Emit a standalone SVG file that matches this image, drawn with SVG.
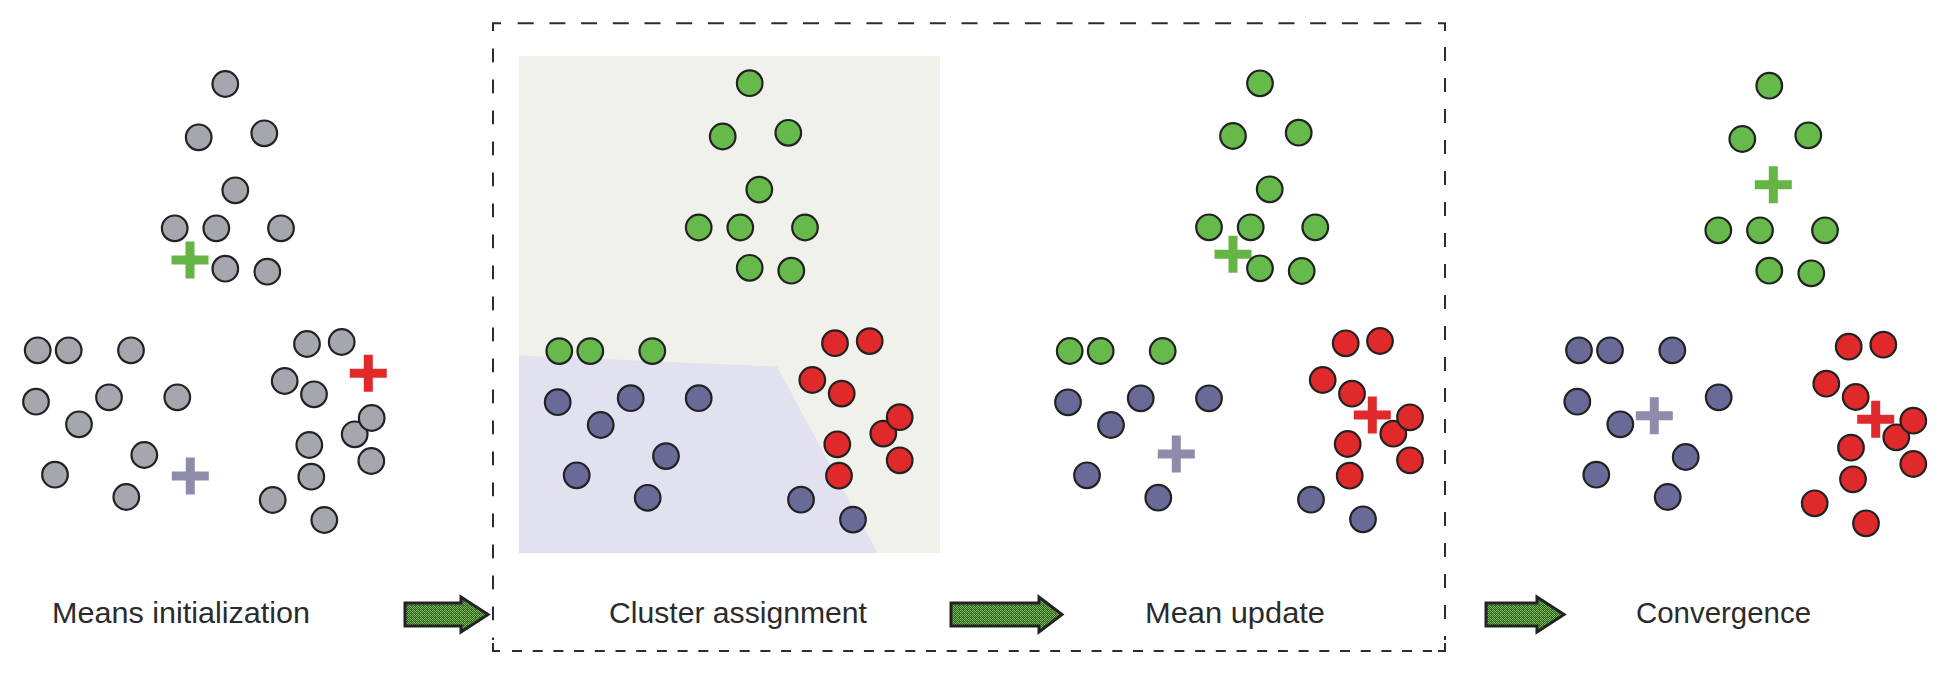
<svg xmlns="http://www.w3.org/2000/svg" xmlns:xlink="http://www.w3.org/1999/xlink" width="1950" height="675" viewBox="0 0 1950 675">
<style>
.pt{stroke:#222;stroke-width:2.2}
.g{fill:#a6a7ae}
.gr{fill:#66b94b}
.pu{fill:#6a6a99}
.rd{fill:#e0292b}
.pg{fill:#65b446}
.pp{fill:#8d8cab}
.pr{fill:#e0292b}
.lbl{font-family:"Liberation Sans",Arial,sans-serif;font-size:30px;fill:#2b2b2b}
.box{stroke:#2b2b38;stroke-width:2;fill:none}
.arr{fill:url(#hatch);stroke:#222;stroke-width:3;stroke-linejoin:miter}
</style>
<defs>
<path id="plus" d="M-18.5,-4.5h14v-14h9v14h14v9h-14v14h-9v-14h-14z"/>
<circle id="c" r="12.8"/>
<pattern id="hatch" width="4" height="4" patternUnits="userSpaceOnUse">
<rect width="4" height="4" fill="#3c5a2a"/>
<rect x="0" y="0" width="1" height="1" fill="#6cc04a"/>
<rect x="2" y="0" width="1" height="1" fill="#6cc04a"/>
<rect x="1" y="1" width="1" height="1" fill="#6cc04a"/>
<rect x="3" y="1" width="1" height="1" fill="#d8342a"/>
<rect x="0" y="2" width="1" height="1" fill="#6cc04a"/>
<rect x="2" y="2" width="1" height="1" fill="#6cc04a"/>
<rect x="1" y="3" width="1" height="1" fill="#6cc04a"/>
<rect x="3" y="3" width="1" height="1" fill="#6cc04a"/>
</pattern>
</defs>
<rect width="1950" height="675" fill="#fff"/>

<!-- dashed frame -->
<g id="frame" class="box">
<path d="M493,31V23.3H501"/>
<line x1="517.7" y1="23.3" x2="1431" y2="23.3" stroke-dasharray="16 15.7"/>
<path d="M1438,23.3H1445V31"/>
<line x1="493" y1="48.6" x2="493" y2="640" stroke-dasharray="13.6 17.4"/>
<line x1="1445" y1="47" x2="1445" y2="640" stroke-dasharray="14 17"/>
<path d="M493,643V651H500"/>
<line x1="512" y1="651" x2="1432" y2="651" stroke-dasharray="10 10.7"/>
<path d="M1438,651H1445V643"/>
</g>

<!-- Panel 1: Means initialization -->
<g id="panel-init">
<use href="#plus" x="190" y="260" class="pg"/>
<use href="#plus" x="190.3" y="476" class="pp"/>
<use href="#plus" x="368.3" y="373.3" class="pr"/>
<g class="pt g">
<use href="#c" x="225.3" y="84"/>
<use href="#c" x="198.7" y="137.3"/>
<use href="#c" x="264.3" y="133.3"/>
<use href="#c" x="235.3" y="190.3"/>
<use href="#c" x="174.7" y="228.3"/>
<use href="#c" x="216.3" y="228.3"/>
<use href="#c" x="281" y="228.3"/>
<use href="#c" x="225.3" y="268.7"/>
<use href="#c" x="267.3" y="271.7"/>
<use href="#c" x="37.7" y="350.3"/>
<use href="#c" x="68.7" y="350.3"/>
<use href="#c" x="131" y="350.3"/>
<use href="#c" x="36" y="401.7"/>
<use href="#c" x="109" y="397.3"/>
<use href="#c" x="177.3" y="397.3"/>
<use href="#c" x="79" y="424.3"/>
<use href="#c" x="144.3" y="455"/>
<use href="#c" x="55" y="474.7"/>
<use href="#c" x="126.3" y="497"/>
<use href="#c" x="307" y="344"/>
<use href="#c" x="341.7" y="342"/>
<use href="#c" x="284.7" y="381"/>
<use href="#c" x="314" y="394.3"/>
<use href="#c" x="354.7" y="434.3"/>
<use href="#c" x="371.7" y="418"/>
<use href="#c" x="309.3" y="445"/>
<use href="#c" x="371.3" y="461"/>
<use href="#c" x="311.3" y="476.7"/>
<use href="#c" x="272.7" y="500"/>
<use href="#c" x="324.3" y="520"/>
</g>
</g>

<!-- Panel 2: Cluster assignment -->
<g id="panel-assign">
<rect x="519" y="56" width="421" height="497" fill="#f0f1ea"/>
<polygon points="519,355.5 777,366.5 877.5,553 519,553" fill="#e2e1ef"/>
<g class="pt gr">
<use href="#c" x="749.7" y="83.2"/>
<use href="#c" x="722.7" y="136.5"/>
<use href="#c" x="788.3" y="132.8"/>
<use href="#c" x="759.3" y="189.6"/>
<use href="#c" x="698.7" y="227.5"/>
<use href="#c" x="740.3" y="227.5"/>
<use href="#c" x="805" y="227.5"/>
<use href="#c" x="749.7" y="267.8"/>
<use href="#c" x="791.3" y="270.7"/>
<use href="#c" x="559.3" y="351.1"/>
<use href="#c" x="590.3" y="351.1"/>
<use href="#c" x="652.3" y="351.1"/>
</g>
<g class="pt pu">
<use href="#c" x="557.7" y="402.2"/>
<use href="#c" x="630.7" y="398.2"/>
<use href="#c" x="698.7" y="398.2"/>
<use href="#c" x="600.7" y="425"/>
<use href="#c" x="666" y="456.1"/>
<use href="#c" x="576.7" y="475.3"/>
<use href="#c" x="647.7" y="497.8"/>
<use href="#c" x="801" y="499.7"/>
<use href="#c" x="853" y="519.6"/>
</g>
<g class="pt rd">
<use href="#c" x="835" y="343.2"/>
<use href="#c" x="869.7" y="341.1"/>
<use href="#c" x="812.3" y="380"/>
<use href="#c" x="841.7" y="393.6"/>
<use href="#c" x="883.3" y="433.6"/>
<use href="#c" x="899.7" y="417.2"/>
<use href="#c" x="837.3" y="444.3"/>
<use href="#c" x="899.7" y="460.3"/>
<use href="#c" x="839" y="475.7"/>
</g>
</g>

<!-- Panel 3: Mean update -->
<g id="panel-update">
<use href="#plus" x="1233" y="254.3" class="pg"/>
<use href="#plus" x="1176.3" y="454" class="pp"/>
<use href="#plus" x="1372.3" y="415" class="pr"/>
<g class="pt gr">
<use href="#c" x="1260" y="83.3"/>
<use href="#c" x="1233" y="136"/>
<use href="#c" x="1298.7" y="132.7"/>
<use href="#c" x="1269.7" y="189.3"/>
<use href="#c" x="1209" y="227.3"/>
<use href="#c" x="1250.7" y="227.3"/>
<use href="#c" x="1315.3" y="227.3"/>
<use href="#c" x="1260" y="268.3"/>
<use href="#c" x="1301.7" y="271"/>
<use href="#c" x="1069.7" y="351"/>
<use href="#c" x="1100.7" y="351"/>
<use href="#c" x="1162.7" y="351"/>
</g>
<g class="pt pu">
<use href="#c" x="1068" y="402.3"/>
<use href="#c" x="1140.7" y="398.3"/>
<use href="#c" x="1209" y="398.3"/>
<use href="#c" x="1111" y="425"/>
<use href="#c" x="1087" y="475.3"/>
<use href="#c" x="1158.3" y="497.7"/>
<use href="#c" x="1311" y="499.7"/>
<use href="#c" x="1363" y="519.3"/>
</g>
<g class="pt rd">
<use href="#c" x="1345.7" y="343.3"/>
<use href="#c" x="1380" y="341"/>
<use href="#c" x="1322.7" y="380"/>
<use href="#c" x="1352" y="393.7"/>
<use href="#c" x="1393.3" y="433.7"/>
<use href="#c" x="1410" y="417.3"/>
<use href="#c" x="1347.7" y="444"/>
<use href="#c" x="1410" y="460.3"/>
<use href="#c" x="1349.7" y="475.7"/>
</g>
</g>

<!-- Panel 4: Convergence -->
<g id="panel-converge">
<use href="#plus" x="1773.3" y="184.7" class="pg"/>
<use href="#plus" x="1654.3" y="415.7" class="pp"/>
<use href="#plus" x="1875.7" y="419.3" class="pr"/>
<g class="pt gr">
<use href="#c" x="1769.3" y="85.7"/>
<use href="#c" x="1742.3" y="139"/>
<use href="#c" x="1808.3" y="135.3"/>
<use href="#c" x="1718.3" y="230.3"/>
<use href="#c" x="1760" y="230.3"/>
<use href="#c" x="1825" y="230.3"/>
<use href="#c" x="1769.3" y="270.7"/>
<use href="#c" x="1811.3" y="273.3"/>
</g>
<g class="pt pu">
<use href="#c" x="1579" y="350.3"/>
<use href="#c" x="1610" y="350.3"/>
<use href="#c" x="1672.3" y="350.3"/>
<use href="#c" x="1577.3" y="401.7"/>
<use href="#c" x="1718.7" y="397.3"/>
<use href="#c" x="1620.3" y="424.3"/>
<use href="#c" x="1685.7" y="457"/>
<use href="#c" x="1596.3" y="474.7"/>
<use href="#c" x="1667.7" y="497"/>
</g>
<g class="pt rd">
<use href="#c" x="1848.7" y="346.7"/>
<use href="#c" x="1883.3" y="344.7"/>
<use href="#c" x="1826.3" y="383.7"/>
<use href="#c" x="1855.7" y="397"/>
<use href="#c" x="1896.3" y="437.3"/>
<use href="#c" x="1913.3" y="420.7"/>
<use href="#c" x="1851" y="447.7"/>
<use href="#c" x="1913.3" y="464"/>
<use href="#c" x="1853" y="479.3"/>
<use href="#c" x="1814.7" y="503.3"/>
<use href="#c" x="1866" y="523.3"/>
</g>
</g>

<!-- labels -->
<g id="label-init"><text class="lbl" x="52" y="623" textLength="258" lengthAdjust="spacingAndGlyphs">Means initialization</text></g>
<g id="label-assign"><text class="lbl" x="609" y="623" textLength="258" lengthAdjust="spacingAndGlyphs">Cluster assignment</text></g>
<g id="label-update"><text class="lbl" x="1145" y="623" textLength="180" lengthAdjust="spacingAndGlyphs">Mean update</text></g>
<g id="label-converge"><text class="lbl" x="1636" y="623" textLength="175" lengthAdjust="spacingAndGlyphs">Convergence</text></g>

<!-- connectors -->
<g id="connectors">
<path class="arr" d="M405,603H461V597L488,614.5L461,632V626H405Z"/>
<path class="arr" d="M951,603H1039V597L1062,614.5L1039,632V626H951Z"/>
<path class="arr" d="M1486,603H1537V597L1564,614.5L1537,632V626H1486Z"/>
</g>
</svg>
